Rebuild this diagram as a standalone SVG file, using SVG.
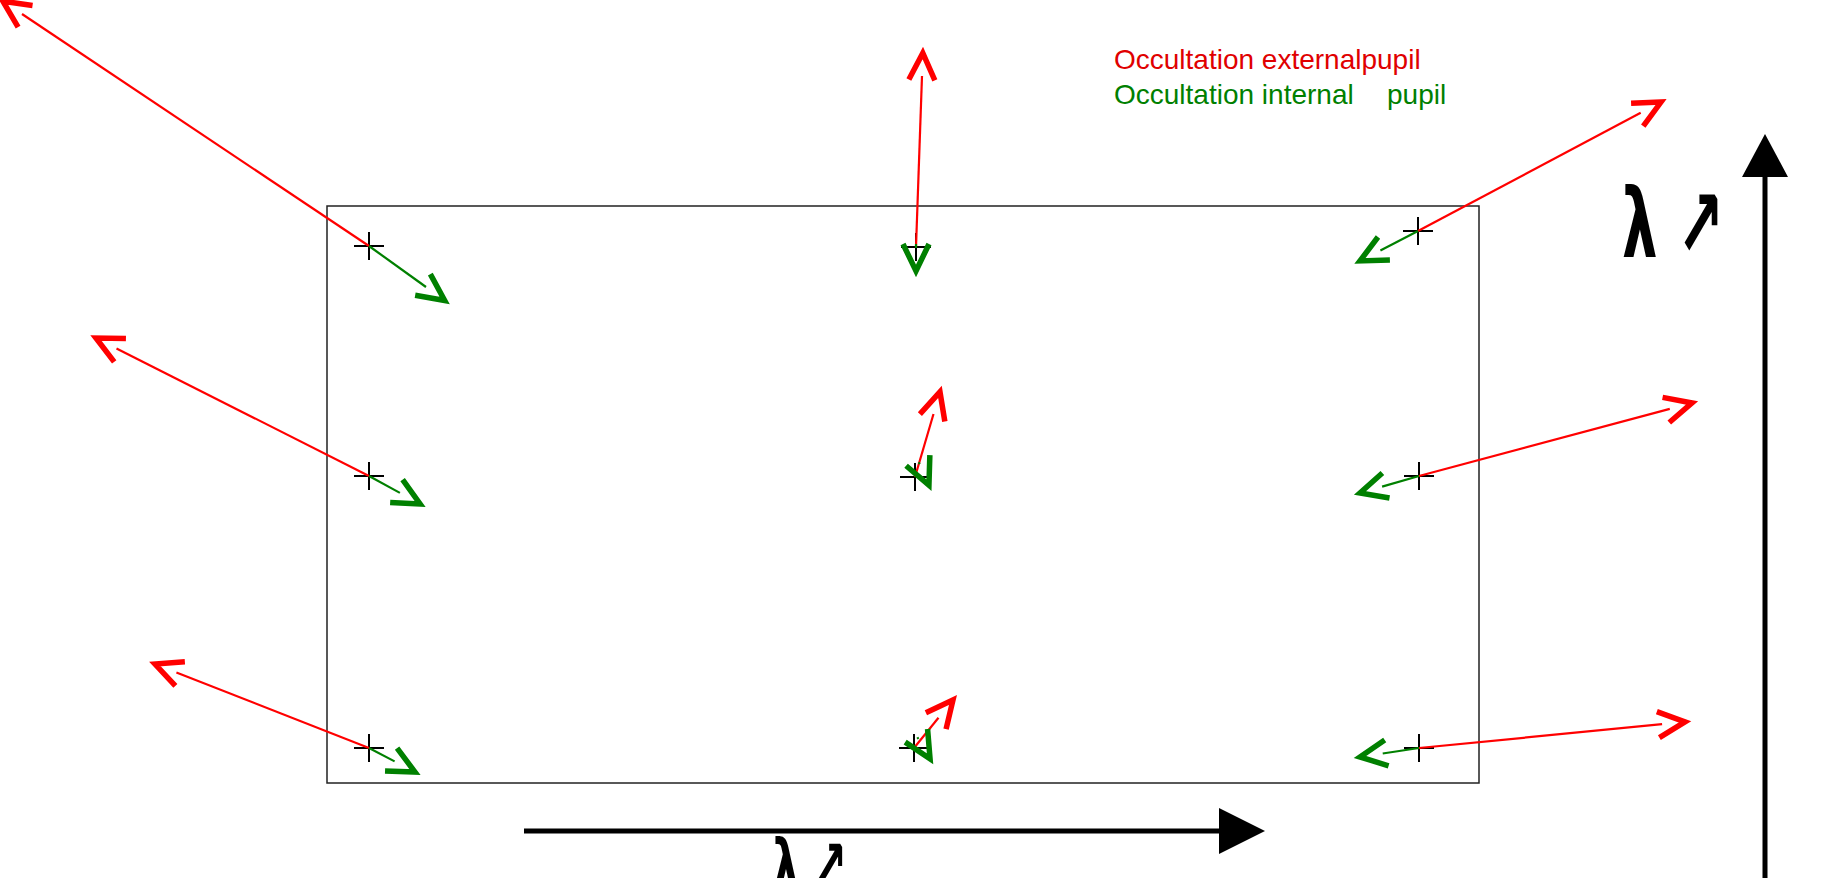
<svg xmlns="http://www.w3.org/2000/svg" width="1822" height="878" viewBox="0 0 1822 878">
<style>
.frame{fill:none;stroke:#222;stroke-width:1.5}
.cross{stroke:#000;stroke-width:2;fill:none}
.red{stroke:#ff0000;stroke-width:2.2;fill:none;marker-end:url(#hr)}
.green{stroke:#008000;stroke-width:2.2;fill:none;marker-end:url(#hg)}
.axis{stroke:#000;stroke-width:5}
.legend{font-family:"Liberation Sans",Arial,sans-serif;font-size:28px}
.lam{font-family:"DejaVu Sans",sans-serif;fill:#000;font-weight:bold}
</style>
<defs>
<marker id="hr" markerUnits="userSpaceOnUse" orient="auto" viewBox="-10 -20 40 40" markerWidth="40" markerHeight="40" refX="0" refY="0" overflow="visible"><path d="M-4,-13 L23,0 L-4,13" fill="none" stroke="#ff0000" stroke-width="5.5"/></marker>
<marker id="hg" markerUnits="userSpaceOnUse" orient="auto" viewBox="-10 -20 40 40" markerWidth="40" markerHeight="40" refX="0" refY="0" overflow="visible"><path d="M-4,-13 L23,0 L-4,13" fill="none" stroke="#008000" stroke-width="5.5"/></marker>
<path id="crossShape" d="M-15,0 H15 M0,-14 V14"/>
</defs>
<rect width="1822" height="878" fill="#fff"/>
<g id="frame"><rect class="frame" x="327" y="206" width="1152" height="577"/></g>
<g id="points" class="cross">
<g id="p-tl"><use href="#crossShape" x="369" y="246"/></g>
<g id="p-tm"><use href="#crossShape" x="916" y="247"/></g>
<g id="p-tr"><use href="#crossShape" x="1418" y="231"/></g>
<g id="p-ml"><use href="#crossShape" x="369" y="476"/></g>
<g id="p-mm"><use href="#crossShape" x="915" y="477"/></g>
<g id="p-mr"><use href="#crossShape" x="1419" y="476"/></g>
<g id="p-bl"><use href="#crossShape" x="369" y="748"/></g>
<g id="p-bm"><use href="#crossShape" x="914" y="748"/></g>
<g id="p-br"><use href="#crossShape" x="1419" y="748"/></g>
</g>
<g id="connectors">
<path class="red" d="M369,246 L22,14"/>
<path class="green" d="M369,246 L426,287"/>
<path class="red" d="M916,247 L922,76"/>
<path class="green" d="M916,244 L916,248"/>
<path class="red" d="M1418,231 L1640.7,112.8"/>
<path class="green" d="M1418,231 L1380.4,250.4"/>
<path class="red" d="M369,476 L116.5,348.4"/>
<path class="green" d="M369,476 L399.9,492.9"/>
<path class="red" d="M915,477 L933.5,414"/>
<path class="green" d="M918.8,462.3 L919.6,464.1"/>
<path class="red" d="M1419,476 L1669.8,408.9"/>
<path class="green" d="M1419,476 L1382.1,486.6"/>
<path class="red" d="M369,748 L176.4,672.4"/>
<path class="green" d="M369,748 L394.6,761.4"/>
<path class="red" d="M914,748 L938.5,717.8"/>
<path class="green" d="M917.4,737.3 L918.4,739"/>
<path class="red" d="M1419,748 L1662.1,724.2"/>
<path class="green" d="M1419,748 L1382.7,753.5"/>
</g>
<g id="legend" class="legend">
<text x="1114" y="69" fill="#e00000">Occultation externalpupil</text>
<text x="1114" y="104" fill="#008000">Occultation internal</text>
<text x="1387" y="104" fill="#008000">pupil</text>
</g>
<g id="axis-x">
<line class="axis" x1="524" y1="831" x2="1222" y2="831"/>
<polygon points="1219,808 1265,831 1219,854" fill="#000"/>
<text class="lam" x="773" y="889" font-size="70" textLength="74" lengthAdjust="spacingAndGlyphs">λ ↗</text>
</g>
<g id="axis-y">
<line class="axis" x1="1765" y1="177" x2="1765" y2="878"/>
<polygon points="1742,177 1765,134 1788,177" fill="#000"/>
<text class="lam" x="1622" y="257" font-size="96" textLength="102" lengthAdjust="spacingAndGlyphs">λ ↗</text>
</g>
</svg>
